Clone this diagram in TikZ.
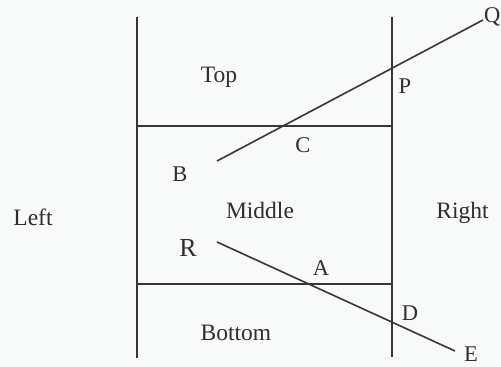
\documentclass[tikz,border=0pt]{standalone}
\usepackage{fontspec}
\setmainfont{Liberation Serif}
\begin{document}
\begin{tikzpicture}[x=1pt,y=-1pt,
  ln/.style={draw=inkc,line width=1.6pt},
  lbl/.style={inner sep=0pt,anchor=base,text=txtc,font=\fontsize{23.5}{26}\selectfont},
  pt/.style={inner sep=0pt,anchor=base,text=txtc,font=\fontsize{22.5}{25}\selectfont}]
\definecolor{inkc}{HTML}{37373A}
\definecolor{txtc}{HTML}{2E2E32}
\definecolor{bgc}{HTML}{F8F9F9}
\fill[bgc] (0,0) rectangle (501,367);
\useasboundingbox (0,0) rectangle (501,367);
% frame coordinates
\coordinate (LT) at (137,17);
\coordinate (LB) at (137,358);
\coordinate (RT) at (392,17);
\coordinate (RB) at (392,357);
\coordinate (H1a) at (137,126);
\coordinate (H1b) at (392,126);
\coordinate (H2a) at (137,284);
\coordinate (H2b) at (392,284);
\coordinate (Bend) at (217,161);
\coordinate (Qend) at (483,20);
\coordinate (Rend) at (217,242);
\coordinate (Eend) at (455,351);
\draw[ln] (LT) -- (LB);
\draw[ln] (RT) -- (RB);
\draw[ln] (H1a) -- (H1b);
\draw[ln] (H2a) -- (H2b);
\draw[ln] (Bend) -- (Qend);
\draw[ln] (Rend) -- (Eend);
% labels
\node[lbl] (top) at (219,82) {Top};
\node[lbl] (mid) at (260,218) {Middle};
\node[lbl] (bot) at (236,340) {Bottom};
\node[lbl] (left) at (33,225.5) {Left};
\node[lbl] (right) at (462.5,218) {Right};
\node[pt] (P) at (405,93) {P};
\node[pt] (C) at (303,152) {C};
\node[pt] (B) at (180,181) {B};
\node[pt,font=\fontsize{26}{28}\selectfont] (R) at (188,256.5) {R};
\node[pt] (A) at (321,275) {A};
\node[pt] (D) at (410,320) {D};
\node[pt] (E) at (471,361) {E};
\node[pt,anchor=base west] (Q) at (484,22) {Q};
\end{tikzpicture}
\end{document}
